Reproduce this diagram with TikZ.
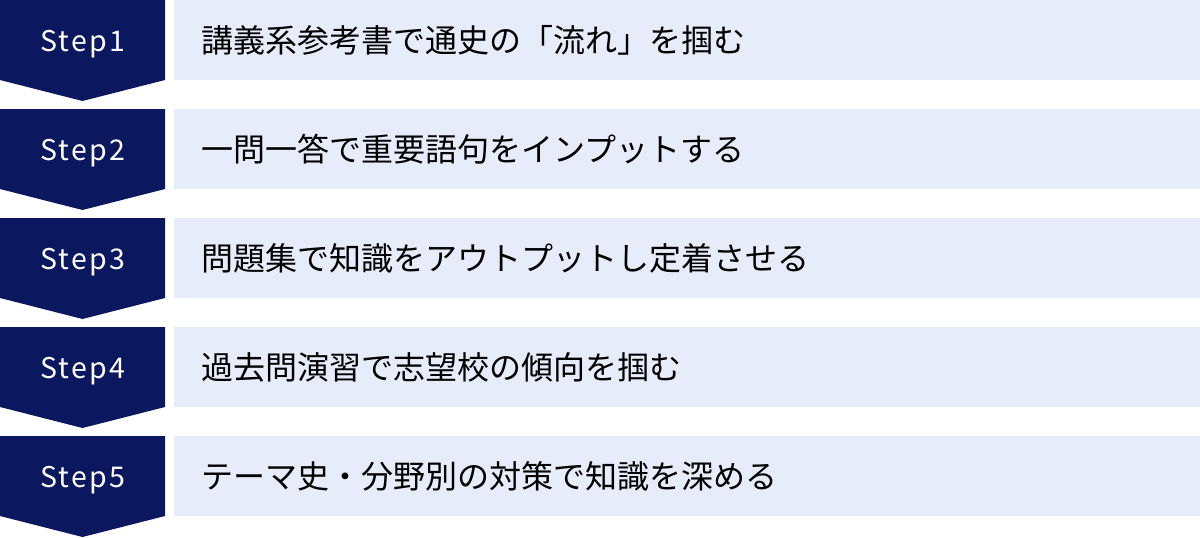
\documentclass[tikz,border=0pt]{standalone}
\usepackage{fontspec}
\setmainfont{Noto Sans}
\newfontfamily\jpfont{Noto Sans CJK JP}
\newfontfamily\stepfont[LetterSpace=8]{Noto Sans CJK JP}
\definecolor{stepblau}{HTML}{0B1860}
\definecolor{kastenblau}{HTML}{E6ECF9}

\begin{document}
\begin{tikzpicture}[x=1pt,y=-1pt,
  steplabel/.style={text=white,anchor=base,inner sep=0pt,font=\stepfont\fontsize{28.5}{34}\selectfont},
  kasten/.style={fill=kastenblau,anchor=north west,minimum height=80pt,inner xsep=27pt,
    text width=972pt,align=left,font=\jpfont\fontsize{32}{38}\selectfont}]
  \useasboundingbox (0,0) rectangle (1200,538);
  % Schritte
  \foreach\i/\t in {1/講義系参考書で通史の「流れ」を掴む,
                    2/一問一答で重要語句をインプットする,
                    3/問題集で知識をアウトプットし定着させる,
                    4/過去問演習で志望校の傾向を掴む,
                    5/テーマ史・分野別の対策で知識を深める} {
    \pgfmathsetmacro\y{109*(\i-1)}
    % Pfeil links
    \fill[stepblau] (0,\y) -- (165,\y) -- (165,\y+80) -- (82.5,\y+101) -- (0,\y+80) -- cycle;
    \node[steplabel] (step\i) at (82.5,\y+51) {Step\i};
    % Kasten rechts
    \node[kasten] (kasten\i) at (174,\y) {\t};
  }
\end{tikzpicture}
\end{document}
